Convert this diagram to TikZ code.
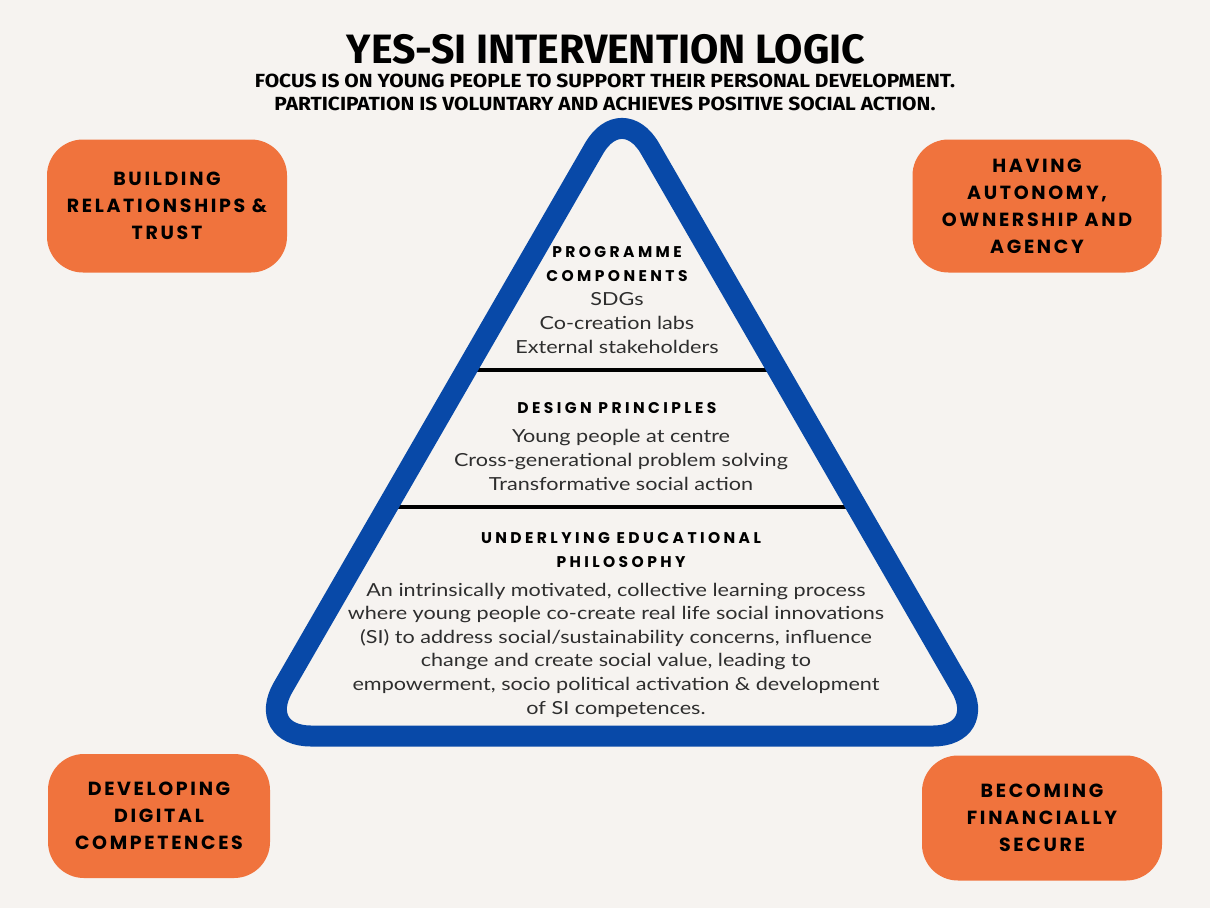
\documentclass[tikz,border=0pt]{standalone}
\usepackage{fontspec}
\setmainfont{Lato}[FakeStretch=1.2]
\newfontfamily\titlefont{Fira Sans}[FakeStretch=1.0]
\newfontfamily\subtitlefont{Fira Sans}[FakeStretch=1.1]
\newfontfamily\capsfont{Poppins}[LetterSpace=14]
\newfontfamily\tiercapsfont{Poppins}[LetterSpace=22]
\usetikzlibrary{calc}

\definecolor{paper}{HTML}{F6F3F0}
\definecolor{pillorange}{HTML}{F0733D}
\definecolor{pyramidblue}{HTML}{0849A8}
\definecolor{bodygrey}{HTML}{2E2E2E}

\tikzset{
  pill/.style={
    fill=pillorange,
    rounded corners=36pt,
    inner sep=0pt,
    align=center,
    font=\capsfont\bfseries\fontsize{19}{27}\selectfont
  },
  tier head/.style={
    align=center,
    font=\tiercapsfont\bfseries\fontsize{15.5}{24}\selectfont
  },
  tier body/.style={
    align=center,
    text=bodygrey,
    font=\fontsize{18}{23.6}\selectfont
  },
  divider/.style={line width=4pt}
}

\begin{document}
\begin{tikzpicture}[x=1pt,y=-1pt]
\fill[paper] (0,0) rectangle (1210,908);
\useasboundingbox (0,0) rectangle (1210,908);

% heading
\node[font=\titlefont\bfseries\fontsize{41}{41}\selectfont, inner sep=0pt] (title) at (606,49) {YES-SI INTERVENTION LOGIC};
\node[font=\subtitlefont\bfseries\fontsize{19}{23}\selectfont, align=center, inner sep=0pt] (subtitle) at (605,92)
  {FOCUS IS ON YOUNG PEOPLE TO SUPPORT THEIR PERSONAL DEVELOPMENT.\\
   PARTICIPATION IS VOLUNTARY AND ACHIEVES POSITIVE SOCIAL ACTION.};

% the four corner pills
\node[pill, minimum width=240pt, minimum height=133pt] (trust) at (167,206)
  {BUILDING\\RELATIONSHIPS \&\\TRUST};
\node[pill, minimum width=249pt, minimum height=133pt] (autonomy) at (1037,206)
  {HAVING\\AUTONOMY,\\OWNERSHIP AND\\AGENCY};
\node[pill, minimum width=222pt, minimum height=124pt] (digital) at (159,816)
  {DEVELOPING\\DIGITAL\\COMPETENCES};
\node[pill, minimum width=240pt, minimum height=125pt] (finance) at (1042,818)
  {BECOMING\\FINANCIALLY\\SECURE};

% pyramid
\coordinate (apex) at (622,100);
\coordinate (left) at (255,736);
\coordinate (right) at (989,736);

\draw[divider] ($(left)!0.5755!(apex)$) -- ($(right)!0.5755!(apex)$);
\draw[divider] ($(left)!0.36!(apex)$) -- ($(right)!0.36!(apex)$);
\draw[pyramidblue, line width=21pt, rounded corners=56pt]
  ($(left)!0.5!(right)$) -- (right) -- (apex) -- (left) -- cycle;

% top tier
\node[tier head] (progHead) at (617,264) {PROGRAMME\\COMPONENTS};
\node[tier body] (progBody) at (617,323) {SDGs\\Co-creation labs\\External stakeholders};

% middle tier
\node[tier head] (designHead) at (617,408) {DESIGN PRINCIPLES};
\node[tier body] (designBody) at (621,460)
  {Young people at centre\\Cross-generational problem solving\\Transformative social action};

% bottom tier
\node[tier head] (philHead) at (621,550) {UNDERLYING EDUCATIONAL\\PHILOSOPHY};
\node[tier body] (philBody) at (616,650)
  {An intrinsically motivated, collective learning process\\
   where young people co-create real life social innovations\\
   (SI) to address social/sustainability concerns, influence\\
   change and create social value, leading to\\
   empowerment, socio political activation \& development\\
   of SI competences.};
\end{tikzpicture}
\end{document}
